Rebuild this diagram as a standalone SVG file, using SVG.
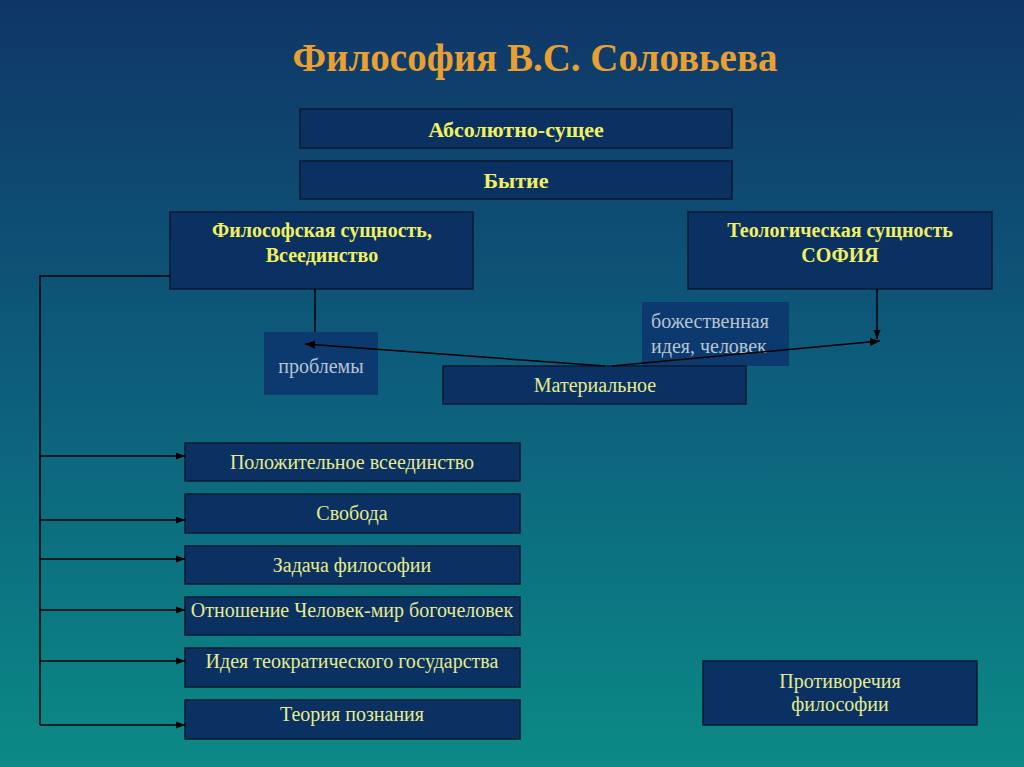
<svg xmlns="http://www.w3.org/2000/svg" width="1024" height="767" viewBox="0 0 1024 767">
<defs>
<linearGradient id="bg" x1="0" y1="0" x2="0" y2="1">
<stop offset="0" stop-color="#0f3667"/>
<stop offset="0.5" stop-color="#0d5e7c"/>
<stop offset="1" stop-color="#0b8a86"/>
</linearGradient>
<marker id="ah" viewBox="0 0 10 10" refX="10" refY="5" markerWidth="9" markerHeight="9" orient="auto" markerUnits="userSpaceOnUse">
<path d="M0,1 L10,5 L0,9 z" fill="#000"/>
</marker>
<marker id="ah2" viewBox="0 0 10 10" refX="10" refY="5" markerWidth="10" markerHeight="10" orient="auto" markerUnits="userSpaceOnUse">
<path d="M0,1 L10,5 L0,9 z" fill="#000"/>
</marker>
</defs>
<style>
.box{fill:#0b3163;stroke:#0a1a30;stroke-width:1.5}
.pale{fill:#0d3a6e;stroke:none}
.tb{font-family:"Liberation Serif",serif;font-weight:bold;font-size:20px;fill:#f0f060;text-anchor:middle}
.tn{font-family:"Liberation Serif",serif;font-size:20px;fill:#e6eb8c;text-anchor:middle}
.tg{font-family:"Liberation Serif",serif;font-size:20px;fill:#b8c4d2}
.ln{stroke:#000;stroke-width:1.5;fill:none}
</style>
<rect width="1024" height="767" fill="url(#bg)"/>
<text x="535" y="71" font-family="Liberation Serif,serif" font-weight="bold" font-size="39" fill="#e8a030" text-anchor="middle">Философия В.С. Соловьева</text>

<g id="absolute"><rect class="box" x="300" y="109" width="432" height="39"/><text class="tb" x="516" y="137" style="font-size:22px">Абсолютно-сущее</text></g>
<g id="being"><rect class="box" x="300" y="161" width="432" height="38"/><text class="tb" x="516" y="188" style="font-size:22px">Бытие</text></g>
<g id="philos"><rect class="box" x="170" y="212" width="303" height="77"/><text class="tb" x="322" y="237">Философская сущность,</text><text class="tb" x="322" y="262">Всеединство</text></g>
<g id="theol"><rect class="box" x="688" y="212" width="304" height="77"/><text class="tb" x="840" y="237">Теологическая сущность</text><text class="tb" x="840" y="262">СОФИЯ</text></g>
<g id="problems"><rect class="pale" x="264" y="332" width="114" height="63"/><text class="tg" x="321" y="373" text-anchor="middle">проблемы</text></g>
<g id="divine"><rect class="pale" x="642" y="302" width="147" height="64"/><text class="tg" x="651" y="328">божественная</text><text class="tg" x="651" y="353">идея, человек</text></g>
<g id="material"><rect class="box" x="443" y="366" width="303" height="38"/><text class="tn" x="595" y="392">Материальное</text></g>

<g id="n1"><rect class="box" x="185" y="443" width="335" height="38"/><text class="tn" x="352" y="469">Положительное всеединство</text></g>
<g id="n2"><rect class="box" x="185" y="494" width="335" height="39"/><text class="tn" x="352" y="520">Свобода</text></g>
<g id="n3"><rect class="box" x="185" y="546" width="335" height="38"/><text class="tn" x="352" y="572">Задача философии</text></g>
<g id="n4"><rect class="box" x="185" y="597" width="335" height="38"/><text class="tn" x="352" y="617">Отношение Человек-мир богочеловек</text></g>
<g id="n5"><rect class="box" x="185" y="648" width="335" height="39"/><text class="tn" x="352" y="668">Идея теократического государства</text></g>
<g id="n6"><rect class="box" x="185" y="700" width="335" height="39"/><text class="tn" x="352" y="721">Теория познания</text></g>
<g id="contra"><rect class="box" x="703" y="661" width="274" height="64"/><text class="tn" x="840" y="688">Противоречия</text><text class="tn" x="840" y="711">философии</text></g>

<g id="connectors">
<path class="ln" d="M315,289 V332"/>
<path class="ln" d="M877,289 V339" marker-end="url(#ah)"/>
<path class="ln" d="M605,366 L305,344" marker-end="url(#ah2)"/>
<path class="ln" d="M612,366 L880,341" marker-end="url(#ah2)"/>
<path class="ln" d="M170,276 H40 V725"/>
<path class="ln" d="M40,456 H185" marker-end="url(#ah)"/>
<path class="ln" d="M40,520 H185" marker-end="url(#ah)"/>
<path class="ln" d="M40,559 H185" marker-end="url(#ah)"/>
<path class="ln" d="M40,610 H185" marker-end="url(#ah)"/>
<path class="ln" d="M40,661 H185" marker-end="url(#ah)"/>
<path class="ln" d="M40,725 H185" marker-end="url(#ah)"/>
</g>
</svg>
